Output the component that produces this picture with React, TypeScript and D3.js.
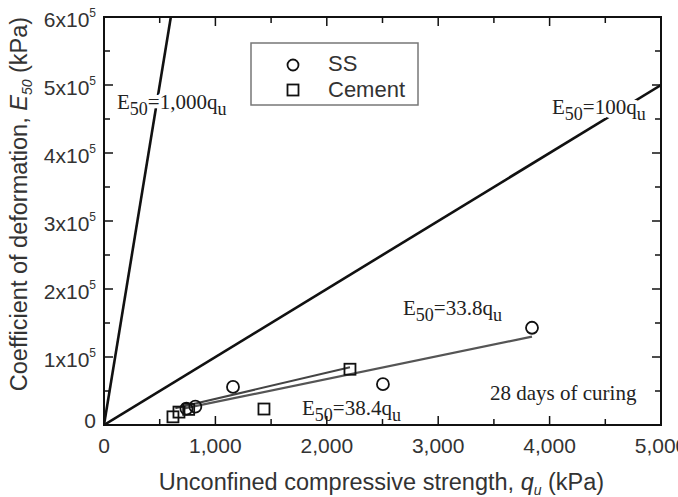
import React from "react";
import * as d3 from "d3";

const ssQu = [740, 820, 1158, 2504, 3842];
const ssE = [24000, 27000, 56000, 60000, 143000];
const cemQu = [619, 673, 760, 1436, 2208];
const cemE = [12000, 19000, 23000, 23500, 82000];

const refSlopes = [1000, 100];
const fitSS = { slope: 33.8, from: 720, to: 3842 };
const fitCem = { slope: 38.4, from: 640, to: 2208 };

const xTicks = [0, 1000, 2000, 3000, 4000, 5000];
const xTickLabels = ["0", "1,000", "2,000", "3,000", "4,000", "5,000"];
const yTicks = [0, 1e5, 2e5, 3e5, 4e5, 5e5, 6e5];
const yTickMant = ["0", "1", "2", "3", "4", "5", "6"];

const W = 678, H = 497;
const L = 104, R = 661, T = 17, B = 425;

export default function App() {
  const x = d3.scaleLinear().domain([0, 5000]).range([L, R]);
  const y = d3.scaleLinear().domain([0, 6e5]).range([B, T]);
  const line = d3.line<[number, number]>().x(d => x(d[0])).y(d => y(d[1]));

  const minorX = d3.range(500, 5000, 1000);
  const minorY = d3.range(5e4, 6e5, 1e5);

  const sans = "'Liberation Sans', Arial, sans-serif";
  const serif = "'Liberation Serif', 'Times New Roman', serif";

  const eqText = (px: number, py: number, coef: string, halo: boolean) => (
    <text x={px} y={py} fontFamily={serif} fontSize={21}
      fill={halo ? "#fff" : "#222"}
      stroke={halo ? "#fff" : "none"} strokeWidth={halo ? 8 : 0} strokeLinejoin="round">
      <tspan>E</tspan>
      <tspan fontSize={18} dy={6}>50</tspan>
      <tspan dy={-6}>={coef}q</tspan>
      <tspan fontSize={18} dy={6}>u</tspan>
    </text>
  );
  const eqLabel = (px: number, py: number, coef: string) => (
    <g>
      {eqText(px, py, coef, true)}
      {eqText(px, py, coef, false)}
    </g>
  );

  return (
    <svg width={W} height={H} style={{ position: "absolute", left: 0, top: 0, background: "#fff" }}>
      <defs>
        <clipPath id="plot">
          <rect x={L} y={T} width={R - L} height={B - T} />
        </clipPath>
      </defs>
      <rect width={W} height={H} fill="#fff" />

      <g clipPath="url(#plot)">
        {refSlopes.map(s => (
          <path key={s} d={line([[0, 0], [5000, 5000 * s]]) || ""} stroke="#111" strokeWidth={2.6} fill="none" />
        ))}
        <path d={line([[fitSS.from, fitSS.from * fitSS.slope], [fitSS.to, fitSS.to * fitSS.slope]]) || ""}
          stroke="#555" strokeWidth={2.2} fill="none" />
        <path d={line([[fitCem.from, fitCem.from * fitCem.slope], [fitCem.to, fitCem.to * fitCem.slope]]) || ""}
          stroke="#444" strokeWidth={2} fill="none" />
      </g>

      {ssQu.map((q, i) => (
        <circle key={"s" + i} cx={x(q)} cy={y(ssE[i])} r={6} fill="none" stroke="#111" strokeWidth={1.8} />
      ))}
      {cemQu.map((q, i) => (
        <rect key={"c" + i} x={x(q) - 5.5} y={y(cemE[i]) - 5.5} width={11} height={11} fill="none" stroke="#111" strokeWidth={1.8} />
      ))}

      {eqLabel(117, 109, "1,000")}
      {eqLabel(552, 114, "100")}
      {eqLabel(403, 315, "33.8")}
      {eqLabel(302, 415, "38.4")}
      <text x={490} y={400} fontFamily={serif} fontSize={21} fill="#222">28 days of curing</text>

      {/* axes frame */}
      <rect x={L} y={T} width={R - L} height={B - T} fill="none" stroke="#111" strokeWidth={2} />

      {/* ticks */}
      {xTicks.map(t => (
        <g key={"xt" + t}>
          <line x1={x(t)} x2={x(t)} y1={B} y2={B - 9} stroke="#111" strokeWidth={1.5} />
          <line x1={x(t)} x2={x(t)} y1={T} y2={T + 9} stroke="#111" strokeWidth={1.5} />
        </g>
      ))}
      {minorX.map(t => (
        <g key={"xm" + t}>
          <line x1={x(t)} x2={x(t)} y1={B} y2={B - 6} stroke="#111" strokeWidth={1.5} />
          <line x1={x(t)} x2={x(t)} y1={T} y2={T + 6} stroke="#111" strokeWidth={1.5} />
        </g>
      ))}
      {yTicks.map(t => (
        <g key={"yt" + t}>
          <line x1={L} x2={L + 9} y1={y(t)} y2={y(t)} stroke="#111" strokeWidth={1.5} />
          <line x1={R} x2={R - 9} y1={y(t)} y2={y(t)} stroke="#111" strokeWidth={1.5} />
        </g>
      ))}
      {minorY.map(t => (
        <g key={"ym" + t}>
          <line x1={L} x2={L + 6} y1={y(t)} y2={y(t)} stroke="#111" strokeWidth={1.5} />
          <line x1={R} x2={R - 6} y1={y(t)} y2={y(t)} stroke="#111" strokeWidth={1.5} />
        </g>
      ))}

      {/* tick labels */}
      {xTicks.map((t, i) => (
        <text key={"xl" + t} x={x(t)} y={453} textAnchor="middle" fontFamily={sans} fontSize={21} fill="#333">
          {xTickLabels[i]}
        </text>
      ))}
      {yTicks.map((t, i) => (
        t === 0 ? (
          <text key={"yl" + t} x={96} y={y(t) + 3} textAnchor="end" fontFamily={sans} fontSize={21} fill="#333">0</text>
        ) : (
          <text key={"yl" + t} x={96} y={y(t) + 10} textAnchor="end" fontFamily={sans} fontSize={21} fill="#333">
            {yTickMant[i]}x10<tspan fontSize={12} dy={-10}>5</tspan>
          </text>
        )
      ))}

      {/* axis titles */}
      <text x={(L + R) / 2 - 1} y={490} textAnchor="middle" fontFamily={sans} fontSize={23.5} fill="#333">
        Unconfined compressive strength, <tspan fontStyle="italic">q</tspan>
        <tspan fontSize={14} dy={5} fontStyle="italic">u</tspan>
        <tspan dy={-5}> (kPa)</tspan>
      </text>
      <text transform={`translate(27, ${204}) rotate(-90)`} textAnchor="middle" fontFamily={sans} fontSize={23.5} fill="#333">
        Coefficient of deformation, <tspan fontStyle="italic">E</tspan>
        <tspan fontSize={14} dy={5} fontStyle="italic">50</tspan>
        <tspan dy={-5}> (kPa)</tspan>
      </text>

      {/* legend */}
      <rect x={251} y={43} width={167} height={62} fill="#fff" stroke="#777" strokeWidth={1.5} />
      <circle cx={293} cy={65} r={5.5} fill="none" stroke="#111" strokeWidth={1.8} />
      <rect x={287.5} y={84.5} width={11} height={11} fill="none" stroke="#111" strokeWidth={1.8} />
      <text x={328} y={71} fontFamily={sans} fontSize={22} fill="#333">SS</text>
      <text x={328} y={97} fontFamily={sans} fontSize={22} fill="#333">Cement</text>
    </svg>
  );
}
